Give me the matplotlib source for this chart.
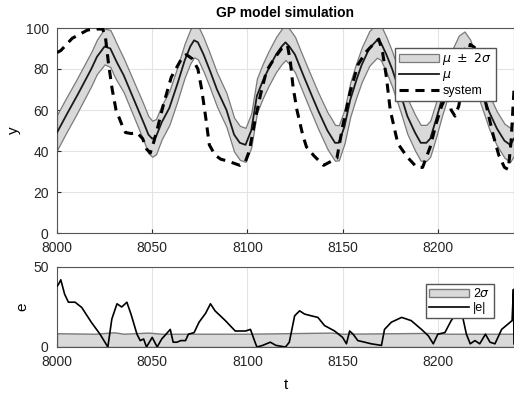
import numpy as np
import matplotlib
matplotlib.use('Agg')
import matplotlib.pyplot as plt

plt.rcParams['font.family'] = ['Liberation Sans', 'DejaVu Sans']
plt.rcParams['mathtext.fontset'] = 'dejavusans'

# model mean
mu_t = [8000, 8004, 8007, 8010, 8014, 8018, 8021, 8025, 8028, 8031,
        8035, 8040, 8045, 8048, 8050, 8052, 8055, 8059, 8063, 8067,
        8070, 8072, 8074, 8077, 8080, 8084, 8089, 8093, 8096, 8099,
        8102, 8105, 8108, 8111, 8115, 8118, 8120, 8122, 8125, 8128,
        8132, 8137, 8142, 8146, 8148, 8151, 8154, 8157, 8160, 8164,
        8168, 8170, 8173, 8176, 8180, 8184, 8188, 8191, 8194, 8196,
        8199, 8202, 8205, 8208, 8211, 8214, 8217, 8220, 8223, 8227,
        8231, 8235, 8238, 8240]
mu = [49, 56, 61, 66, 73, 80, 86, 91, 90, 84,
      77, 66, 55, 48, 46, 47, 54, 61, 72, 84,
      91, 94, 93, 87, 80, 70, 60, 48, 44, 43,
      50, 67, 74, 80, 87, 91, 93, 91, 87, 80,
      71, 60, 50, 44, 44, 52, 65, 74, 82, 90,
      94, 93, 87, 80, 69, 57, 49, 44, 44, 46,
      55, 65, 74, 82, 88, 90, 86, 78, 70, 59,
      51, 45, 43, 46]

# 2 sigma (same for both panels)
sig_t = [8000, 8020, 8030, 8035, 8048, 8055, 8100, 8144, 8150, 8195, 8205, 8240]
two_sigma = [8.6, 8.3, 9.2, 8.3, 9.0, 8.3, 8.3, 9.0, 8.3, 8.8, 8.3, 8.3]

# measured system output
sys_t = [8000, 8002, 8005, 8008, 8012, 8016, 8020, 8024, 8025.5, 8027,
         8029, 8031, 8034, 8036, 8039, 8042, 8045, 8047, 8049, 8051,
         8053, 8056, 8060, 8063, 8066, 8068, 8071, 8074, 8076, 8078,
         8080, 8083, 8086, 8090, 8093, 8096, 8099, 8101, 8104, 8107,
         8110, 8114, 8118, 8121, 8122.5, 8124, 8126, 8129, 8131, 8135,
         8140, 8144, 8147, 8150, 8154, 8158, 8162, 8165, 8169, 8171,
         8173, 8175, 8179, 8184, 8189, 8192, 8196, 8199, 8202, 8205,
         8207, 8209, 8211, 8214, 8217, 8220, 8223, 8226, 8229, 8232,
         8235, 8237, 8238.5, 8240]
sys_y = [88, 89, 92, 95, 97, 99, 99.5, 99.5, 95, 83,
         70, 60, 53, 49, 48.5, 49, 46, 41, 39, 45,
         52, 63, 76, 81, 86, 87, 85, 80, 70, 57,
         43, 38, 36, 35, 34, 33, 35, 40, 55, 68,
         79, 85, 90, 91.6, 84, 71, 60, 48, 42, 37.6,
         33, 35, 36.5, 52, 69, 82, 88, 91, 94.6, 88,
         76, 60, 43.6, 37, 32, 32, 42, 53, 62, 68,
         60, 57, 62, 78, 92, 90, 72, 60, 48, 38,
         32, 31, 45, 70]

# absolute error
e_t = [8000, 8000.7, 8002, 8004, 8006, 8009.5, 8013, 8018, 8022.6, 8026.7,
       8028.8, 8031.5, 8034, 8036.7, 8039, 8042, 8043.7, 8045.5, 8047, 8050,
       8052.6, 8055, 8058, 8059.5, 8061, 8063, 8065, 8067.5, 8069, 8072,
       8074.6, 8078, 8080.6, 8083, 8088.4, 8093.6, 8099, 8101.6, 8104, 8105,
       8108, 8112, 8115, 8120, 8122, 8124.8, 8127.4, 8130, 8133.5, 8137,
       8140.5, 8145.8, 8150, 8152, 8153.7, 8155.5, 8158, 8161.6, 8165, 8170.4,
       8172, 8175.6, 8181, 8186, 8191.4, 8195, 8197.6, 8200, 8203.7, 8207,
       8210, 8213, 8215, 8217, 8219.5, 8222, 8225, 8227.4, 8230, 8233.5,
       8237, 8239, 8239.7, 8240]
e_abs = [38, 39, 42, 33, 28, 28, 24.7, 15.5, 8, 0,
         17.5, 27, 25, 28, 20, 8, 4, 5, 0, 6,
         0, 5, 9, 11, 3, 3, 4, 4, 8, 9,
         15.5, 21, 27, 22.6, 16.5, 10, 10, 11, 3, 0,
         1, 3, 1, 0, 3, 19.5, 22.6, 20.6, 19.5, 18.5,
         13.4, 10, 6, 2, 10, 8, 4, 3, 2, 1,
         11, 15.5, 18.5, 16.5, 11, 7, 2, 8, 9, 16.5,
         21, 19, 8, 2, 4, 2, 8, 3, 2, 11,
         14.5, 16.5, 36, 2]

t = np.arange(8000, 8240.5, 0.5)
mu_i = np.interp(t, mu_t, mu)
sig_i = np.interp(t, sig_t, two_sigma)

fig = plt.figure(figsize=(5.14, 3.94), dpi=100)
ax1 = fig.add_axes([57 / 514, 1 - 233 / 394, 457 / 514, 205 / 394])
ax2 = fig.add_axes([57 / 514, 1 - 347 / 394, 457 / 514, 80 / 394])

band_face = '#d9d9d9'
band_edge = '#7a7a7a'

ax1.fill_between(t, mu_i - sig_i, mu_i + sig_i, facecolor=band_face,
                 edgecolor=band_edge, linewidth=0.9, label=r'$\mu\ \pm\ 2\sigma$', zorder=2)
ax1.plot(t, mu_i, color='#1a1a1a', linewidth=1.3, label=r'$\mu$', zorder=3)
ax1.plot(sys_t, sys_y, color='black', linewidth=2.2, linestyle=(0, (3.0, 2.2)),
         label='system', zorder=4)
ax1.set_xlim(8000, 8240)
ax1.set_ylim(0, 100)
ax1.set_xticks([8000, 8050, 8100, 8150, 8200])
ax1.set_yticks([0, 20, 40, 60, 80, 100])
ax1.set_ylabel('y', fontsize=11, labelpad=3)
ax1.set_title('GP model simulation', fontsize=10, fontweight='bold', pad=8)
ax1.legend(loc='upper right', bbox_to_anchor=(0.974, 0.935), fontsize=9,
           handlelength=3.2, fancybox=False, framealpha=1, edgecolor='#555555',
           borderpad=0.3, labelspacing=0.15, handletextpad=0.3)

ax2.fill_between(t, 0, sig_i, facecolor=band_face, edgecolor=band_edge,
                 linewidth=1.0, label=r'2$\sigma$', zorder=2)
ax2.plot(e_t, e_abs, color='black', linewidth=1.2, label='|e|', zorder=3)
ax2.set_xlim(8000, 8240)
ax2.set_ylim(0, 50)
ax2.set_xticks([8000, 8050, 8100, 8150, 8200])
ax2.set_yticks([0, 50])
ax2.set_ylabel('e', fontsize=11, labelpad=3)
ax2.set_xlabel('t', fontsize=11, labelpad=6)
ax2.legend(loc='upper right', bbox_to_anchor=(0.97, 0.87), fontsize=9,
           handlelength=3.2, fancybox=False, framealpha=1, edgecolor='#555555',
           borderpad=0.3, labelspacing=0.15, handletextpad=0.3)

for ax in (ax1, ax2):
    ax.grid(True, color='#e3e3e3', linewidth=0.8)
    ax.set_axisbelow(True)
    ax.tick_params(direction='in', labelsize=10, colors='#262626', length=3)
    ax.tick_params(axis='x', pad=6)
    ax.tick_params(axis='y', pad=6)
    for s in ax.spines.values():
        s.set_color('#555555')
        s.set_linewidth(0.8)

fig.savefig('out.png', dpi=100)
